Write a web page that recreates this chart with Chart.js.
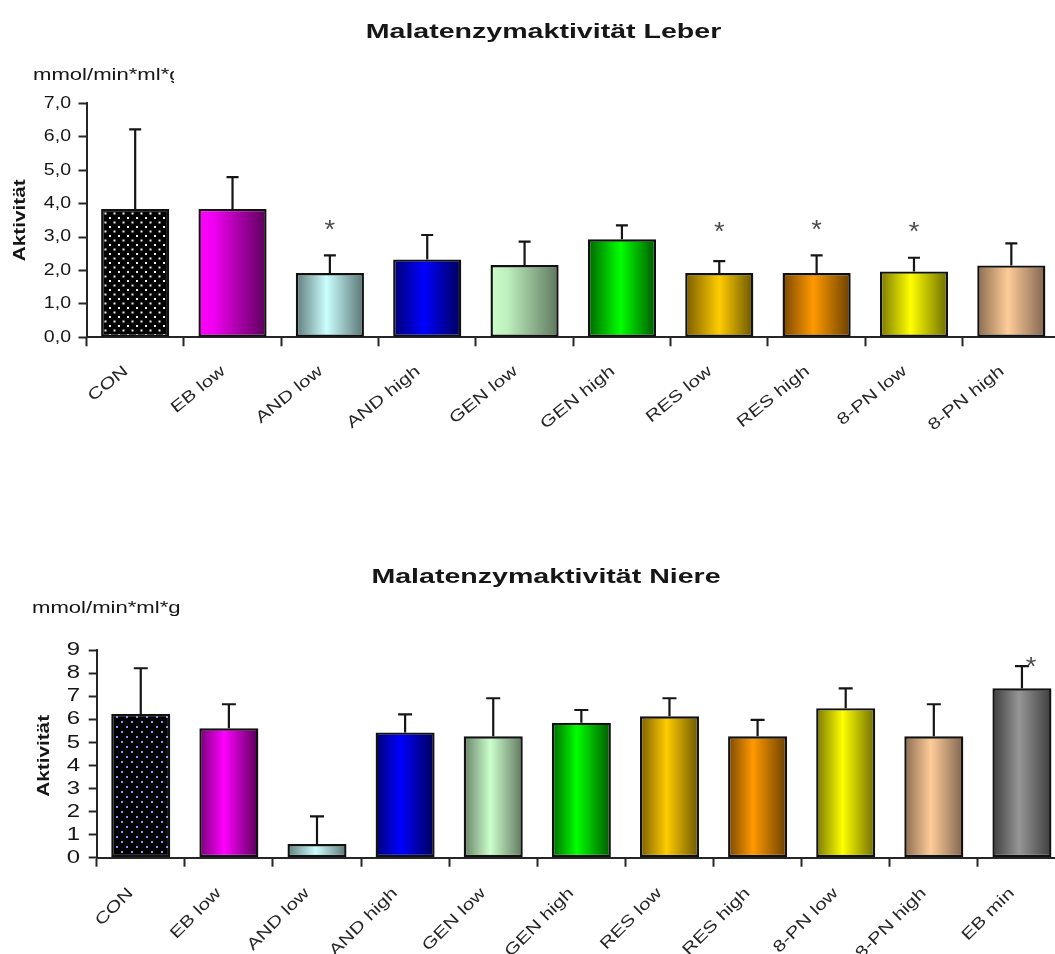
<!DOCTYPE html>
<html>
<head>
<meta charset="utf-8">
<script src="https://cdn.jsdelivr.net/npm/chart.js@4.4.1/dist/chart.umd.min.js"></script>
<style>
  html, body { margin: 0; padding: 0; background: #fff; overflow: hidden; width: 1055px; height: 954px; }
  canvas { filter: blur(0.3px); }
  #leber { position: absolute; left: 0; top: 0; }
  #niere { position: absolute; left: 0; top: 470px; }
</style>
</head>
<body>
<canvas id="leber" width="1075" height="470"></canvas>
<canvas id="niere" width="1075" height="484"></canvas>
<script>
// ---- Leber (liver) ----
const leberTitle = 'Malatenzymaktivität Leber';
const leberCategories = ['CON', 'EB low', 'AND low', 'AND high', 'GEN low', 'GEN high', 'RES low', 'RES high', '8-PN low', '8-PN high'];
const leberMeans = [3.84, 3.84, 1.92, 2.33, 2.16, 2.93, 1.92, 1.92, 1.97, 2.15];
const leberSD    = [2.38, 0.95, 0.53, 0.73, 0.70, 0.42, 0.36, 0.53, 0.41, 0.66];
const leberStars = [null, null, 3.41, null, null, null, 3.37, 3.42, 3.37, null];
const leberTickLabels = ['0,0', '1,0', '2,0', '3,0', '4,0', '5,0', '6,0', '7,0'];

// ---- Niere (kidney) ----
const niereTitle = 'Malatenzymaktivität Niere';
const niereCategories = ['CON', 'EB low', 'AND low', 'AND high', 'GEN low', 'GEN high', 'RES low', 'RES high', '8-PN low', '8-PN high', 'EB min'];
const niereMeans = [6.23, 5.61, 0.59, 5.43, 5.26, 5.85, 6.13, 5.26, 6.48, 5.26, 7.34];
const niereSD    = [1.98, 1.04, 1.20, 0.78, 1.65, 0.55, 0.78, 0.71, 0.86, 1.39, 0.96];
const niereStars = [null, null, null, null, null, null, null, null, null, null, 8.57];
const niereTickLabels = ['0', '1', '2', '3', '4', '5', '6', '7', '8', '9'];

const unitLabel = 'mmol/min*ml*g';
const axisTitle = 'Aktivität';

// Bar fills: dotted pattern or horizontal colour gradients (stop position, colour)
const leberFills = [
  'dotsWhite',
  [[0, '#ff00ff'], [0.22, '#f000f0'], [1, '#5a0058']],
  [[0, '#5f7b7b'], [0.45, '#ccffff'], [1, '#5a7474']],
  [[0, '#000070'], [0.45, '#0000ff'], [1, '#000058']],
  [[0, '#ccffcc'], [0.25, '#bdeebd'], [1, '#5f775f']],
  [[0, '#006400'], [0.48, '#00ff00'], [1, '#005800']],
  [[0, '#7a5c00'], [0.5, '#ffcc00'], [1, '#6a5600']],
  [[0, '#7a4800'], [0.45, '#ff9900'], [1, '#6a4000']],
  [[0, '#787800'], [0.45, '#ffff00'], [1, '#6c6c00']],
  [[0, '#8a6c50'], [0.45, '#ffcc99'], [1, '#806450']]
];
const niereFills = [
  'dotsBlue',
  [[0, '#780078'], [0.42, '#ff00ff'], [1, '#580058']],
  [[0, '#5f7f7f'], [0.48, '#ccffff'], [1, '#5a7474']],
  [[0, '#000075'], [0.42, '#0000ff'], [1, '#000058']],
  [[0, '#668066'], [0.45, '#ccffcc'], [1, '#5f775f']],
  [[0, '#006800'], [0.42, '#00ff00'], [1, '#005800']],
  [[0, '#7a5c00'], [0.45, '#ffcc00'], [1, '#6a5600']],
  [[0, '#7a4800'], [0.42, '#ff9900'], [1, '#6a4000']],
  [[0, '#787800'], [0.45, '#ffff00'], [1, '#6c6c00']],
  [[0, '#8a6c50'], [0.45, '#ffcc99'], [1, '#806450']],
  [[0, '#3c3c3c'], [0.45, '#969696'], [1, '#3e3e3e']]
];

const FONT = '"Liberation Sans", Arial, sans-serif';
const INK = '#161616';
const AXIS = '#262626';

function dotPattern(ctx, tile, bg, fg) {
  const c = document.createElement('canvas');
  c.width = tile; c.height = tile;
  const g = c.getContext('2d');
  g.fillStyle = bg; g.fillRect(0, 0, tile, tile);
  g.fillStyle = fg;
  g.fillRect(1, 1, 2, 2);
  g.fillRect(1 + tile / 2, 1 + tile / 2, 2, 2);
  return ctx.createPattern(c, 'repeat');
}

// Text drawn wide along its own baseline
function wideText(ctx, txt, x, y, o) {
  ctx.save();
  ctx.translate(x, y);
  ctx.rotate(o.angle || 0);
  ctx.scale(o.sx || 1.3, 1);
  ctx.font = o.font;
  ctx.fillStyle = o.color || INK;
  ctx.textAlign = o.align || 'left';
  ctx.textBaseline = o.baseline || 'middle';
  ctx.fillText(txt, 0, 0);
  ctx.restore();
}

function buildChart(id, cfg) {
  const canvas = document.getElementById(id);
  const ctx = canvas.getContext('2d');
  const n = cfg.categories.length;
  const patterns = {
    dotsWhite: dotPattern(ctx, 9, '#000000', '#f4f4f4'),
    dotsBlue: dotPattern(ctx, 10, '#000000', '#9090ff')
  };

  const fill = (context) => {
    const chart = context.chart;
    const spec = cfg.fills[context.dataIndex];
    if (typeof spec === 'string') return patterns[spec];
    if (!chart.chartArea) return spec[1][1];
    const xs = chart.scales.x;
    const c = xs.getPixelForValue(context.dataIndex);
    const w = (xs.right - xs.left) / n * cfg.barPct;
    const g = chart.ctx.createLinearGradient(c - w / 2, 0, c + w / 2, 0);
    spec.forEach(([p, col]) => g.addColorStop(p, col));
    return g;
  };

  const overlay = {
    id: 'overlay',
    afterDatasetsDraw(chart) {
      const c2 = chart.ctx;
      const xs = chart.scales.x, ys = chart.scales.y;
      // upward error bars
      c2.save();
      c2.strokeStyle = '#151515';
      c2.lineWidth = 2.2;
      cfg.means.forEach((m, i) => {
        const x = xs.getPixelForValue(i);
        const y0 = ys.getPixelForValue(m);
        const y1 = ys.getPixelForValue(m + cfg.sd[i]);
        c2.beginPath();
        c2.moveTo(x, y0); c2.lineTo(x, y1);
        c2.moveTo(x - cfg.cap, y1); c2.lineTo(x + cfg.cap, y1);
        c2.stroke();
      });
      c2.restore();
      // significance stars
      cfg.stars.forEach((v, i) => {
        if (v === null) return;
        const x = xs.getPixelForValue(i) + cfg.starDx;
        const y = ys.getPixelForValue(v);
        wideText(c2, '*', x, y + 15, { font: '26px ' + FONT, sx: 1.05, align: 'center', baseline: 'alphabetic', color: '#4a4a4a' });
      });
    },
    afterDraw(chart) {
      const c2 = chart.ctx;
      const xs = chart.scales.x, ys = chart.scales.y;
      // chart title
      wideText(c2, cfg.title, cfg.titleX, cfg.titleY, { font: 'bold 21px ' + FONT, sx: 1.36, align: 'center' });
      // unit
      c2.save();
      c2.beginPath();
      c2.rect(0, 0, cfg.unitClip, chart.height);
      c2.clip();
      wideText(c2, unitLabel, cfg.unitX, cfg.unitY, { font: '17px ' + FONT, sx: 1.3 });
      c2.restore();
      // y axis title
      wideText(c2, axisTitle, cfg.yTitleX, (ys.top + ys.bottom) / 2 + cfg.yTitleDy, { font: 'bold 17px ' + FONT, sx: 1.22, angle: -Math.PI / 2, align: 'center' });
      // y tick labels
      cfg.tickLabels.forEach((t) => {
        const v = Number(t.replace(',', '.'));
        wideText(c2, t, cfg.yLabelRight, ys.getPixelForValue(v), { font: cfg.yFont + 'px ' + FONT, sx: cfg.ySx, align: 'right' });
      });
      // category labels
      cfg.categories.forEach((lab, i) => {
        const x = xs.getPixelForValue(i) + cfg.xLabelDx;
        wideText(c2, lab, x, ys.bottom + cfg.xLabelDy, { font: '16px ' + FONT, sx: 1.3, angle: -cfg.xAngle * Math.PI / 180, align: 'right', color: '#262626' });
      });
    }
  };

  return new Chart(ctx, {
    type: 'bar',
    data: {
      labels: cfg.categories,
      datasets: [{
        data: cfg.means,
        backgroundColor: fill,
        borderColor: '#111111',
        borderWidth: 2.4,
        borderSkipped: false,
        barPercentage: cfg.barPct,
        categoryPercentage: 1
      }]
    },
    options: {
      responsive: false,
      animation: false,
      events: [],
      layout: { padding: { top: cfg.padTop, right: cfg.padRight, left: 0, bottom: 0 } },
      plugins: { legend: { display: false }, tooltip: { enabled: false } },
      scales: {
        x: {
          type: 'category',
          offset: true,
          grid: { offset: true, drawOnChartArea: false, drawTicks: true, tickLength: 9, tickColor: AXIS, tickWidth: 2, color: AXIS },
          border: { display: true, color: AXIS, width: 2 },
          ticks: { display: false },
          afterFit: (s) => { s.height = cfg.xHeight; }
        },
        y: {
          min: 0,
          max: cfg.yMax,
          ticks: { display: false, stepSize: 1 },
          grid: { drawOnChartArea: false, drawTicks: true, tickLength: 8, tickColor: AXIS, tickWidth: 2, color: AXIS },
          border: { display: true, color: AXIS, width: 2 },
          afterFit: (s) => { s.width = cfg.yWidth; }
        }
      }
    },
    plugins: [overlay]
  });
}

buildChart('leber', {
  title: leberTitle, categories: leberCategories, means: leberMeans, sd: leberSD, stars: leberStars,
  tickLabels: leberTickLabels, fills: leberFills,
  yMax: 7, barPct: 0.7, cap: 6, starDx: 0,
  padTop: 103.3, padRight: 15, xHeight: 132.7, yWidth: 86.5,
  titleX: 543.5, titleY: 32, unitX: 33, unitY: 75, unitClip: 174,
  yTitleX: 20, yTitleDy: 0, yLabelRight: 71, yFont: 16, ySx: 1.22,
  xLabelDx: -9, xLabelDy: 32, xAngle: 39
});

buildChart('niere', {
  title: niereTitle, categories: niereCategories, means: niereMeans, sd: niereSD, stars: niereStars,
  tickLabels: niereTickLabels, fills: niereFills,
  yMax: 9, barPct: 0.67, cap: 7, starDx: 9,
  padTop: 180, padRight: 9, xHeight: 96.3, yWidth: 96.7,
  titleX: 546, titleY: 107, unitX: 32, unitY: 138, unitClip: 400,
  yTitleX: 44, yTitleDy: 2, yLabelRight: 80, yFont: 19, ySx: 1.26,
  xLabelDx: -10, xLabelDy: 33, xAngle: 45
});
</script>
</body>
</html>
